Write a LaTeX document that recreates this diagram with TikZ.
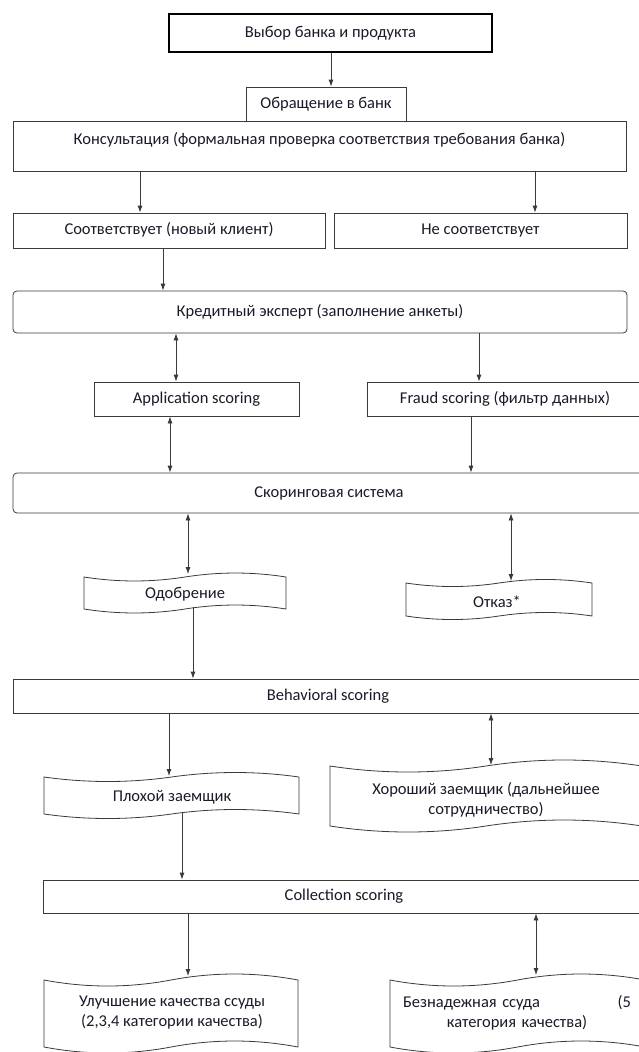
\documentclass[tikz,border=0pt]{standalone}
\usepackage{fontspec}
\setmainfont{Carlito}
\usetikzlibrary{arrows.meta}
\definecolor{ln}{HTML}{3A3A3A}
\definecolor{tx}{HTML}{1A1A28}
% punched-tape outline: #1 x-left, #2 top baseline, #3 x-right, #4 bottom baseline, #5 control offset
\newcommand\tapeoutline[5]{%
  \draw[tapeline] (#1,#2)
    .. controls ({#1+(#3-#1)/6},{#2+#5}) and ({#1+(#3-#1)/3},{#2+#5}) .. ({(#1+#3)/2},#2)
    .. controls ({#1+2*(#3-#1)/3},{#2-#5}) and ({#1+5*(#3-#1)/6},{#2-#5}) .. (#3,#2)
    -- (#3,#4)
    .. controls ({#1+5*(#3-#1)/6},{#4-#5}) and ({#1+2*(#3-#1)/3},{#4-#5}) .. ({(#1+#3)/2},#4)
    .. controls ({#1+(#3-#1)/3},{#4+#5}) and ({#1+(#3-#1)/6},{#4+#5}) .. (#1,#4)
    -- cycle;}
\begin{document}
\begin{tikzpicture}[x=1pt,y=-1pt,
  every node/.style={font=\fontsize{16.5}{20}\selectfont, text=tx},
  box/.style={draw=ln, line width=0.8pt, rectangle, inner sep=0pt, text height=12pt, text depth=4pt},
  rbox/.style={box, rounded corners=4pt},
  lbl/.style={inner sep=0pt, align=center},
  tapeline/.style={draw=ln, line width=0.8pt},
  arr/.style={draw=ln, line width=0.8pt, -{Latex[length=7pt,width=5pt]}},
  darr/.style={draw=ln, line width=0.8pt, {Latex[length=7pt,width=5pt]}-{Latex[length=7pt,width=5pt]}}]
\useasboundingbox (0,0) rectangle (639,1052);
\fill[white] (0,0) rectangle (639,1052);
\clip (0,0) rectangle (639,1052);

% boxes
\node[box, line width=1.6pt, draw=black, minimum width=323pt, minimum height=38pt] (vybor) at (330.5,33) {Выбор банка и продукта};
\node[box, minimum width=160pt, minimum height=34pt] (obr) at (326,104) {Обращение в банк};
\node[box, minimum width=613pt, inner ysep=4pt, text height=19pt, text depth=23pt] (kons) at (319.5,146) {Консультация (формальная проверка соответствия требования банка)};
\node[box, minimum width=312pt, minimum height=35pt] (sootv) at (169,230.5) {Соответствует (новый клиент)};
\node[box, minimum width=293pt, minimum height=35pt] (nesootv) at (480.5,230.5) {Не соответствует};
\node[rbox, minimum width=614pt, minimum height=42pt] (kred) at (320,312) {Кредитный эксперт (заполнение анкеты)};
\node[box, minimum width=205pt, minimum height=34pt] (app) at (196.5,399) {Application scoring};
\node[box, minimum width=276pt, minimum height=34pt] (fraud) at (505,399) {Fraud scoring (фильтр данных)};
\node[rbox, minimum width=632pt, minimum height=40pt] (skor) at (329,493) {Скоринговая система};
\node[box, minimum width=630pt, minimum height=34pt] (behav) at (328,696) {Behavioral scoring};
\node[box, minimum width=602pt, minimum height=33pt] (coll) at (344,896.5) {Collection scoring};

% punched-tape boxes
\tapeoutline{84}{577}{286}{609}{5.3}
\node[lbl] (odobr) at (185,594) {Одобрение};
\tapeoutline{406}{583}{592}{616}{4.7}
\node[lbl] (otkaz) at (497,602) {Отказ*};
\tapeoutline{44}{777}{299}{814}{6}
\node[lbl] (plokh) at (172,797) {Плохой заемщик};
\tapeoutline{330}{766}{642}{826}{8}
\node[lbl] (khor) at (486,800) {Хороший заемщик (дальнейшее\\сотрудничество)};
\tapeoutline{44}{980}{298}{1047}{8}
\node[lbl] (uluch) at (172,1013) {Улучшение качества ссуды\\(2,3,4 категории качества)};
\tapeoutline{390}{980}{645}{1047}{8}
\node[lbl, align=left, text width=228pt] (bezn) at (517,1013) {Безнадежная ссуда\hfill(5\\\makebox[228pt]{категория качества)}};

% connector x positions and ends on wavy outlines
\coordinate (c1) at (331,0);
\coordinate (c2) at (140,0);
\coordinate (c3) at (535,0);
\coordinate (c4) at (163,0);
\coordinate (c5) at (176,0);
\coordinate (c6) at (479,0);
\coordinate (c7) at (170,0);
\coordinate (c8) at (471,0);
\coordinate (odobrT) at (188,574);
\coordinate (otkazT) at (511,581);
\coordinate (odobrB) at (193,607);
\coordinate (plokhT) at (169,776);
\coordinate (khorT) at (491,765);
\coordinate (plokhB) at (182,813);
\coordinate (uluchT) at (188,976);
\coordinate (beznT) at (536,975);

% connectors
\draw[arr] (vybor.south -| c1) -- (obr.north -| c1);
\draw[arr] (kons.south -| c2) -- (sootv.north -| c2);
\draw[arr] (kons.south -| c3) -- (nesootv.north -| c3);
\draw[arr] (sootv.south -| c4) -- (kred.north -| c4);
\draw[darr] (kred.south -| c5) -- (app.north -| c5);
\draw[arr] (kred.south -| c6) -- (fraud.north -| c6);
\draw[darr] (app.south -| c7) -- (skor.north -| c7);
\draw[arr] (fraud.south -| c8) -- (skor.north -| c8);
\draw[darr] (skor.south -| odobrT) -- (odobrT);
\draw[darr] (skor.south -| otkazT) -- (otkazT);
\draw[arr] (odobrB) -- (behav.north -| odobrB);
\draw[arr] (behav.south -| plokhT) -- (plokhT);
\draw[darr] (behav.south -| khorT) -- (khorT);
\draw[arr] (plokhB) -- (coll.north -| plokhB);
\draw[arr] (coll.south -| uluchT) -- (uluchT);
\draw[darr] (coll.south -| beznT) -- (beznT);
\end{tikzpicture}
\end{document}
